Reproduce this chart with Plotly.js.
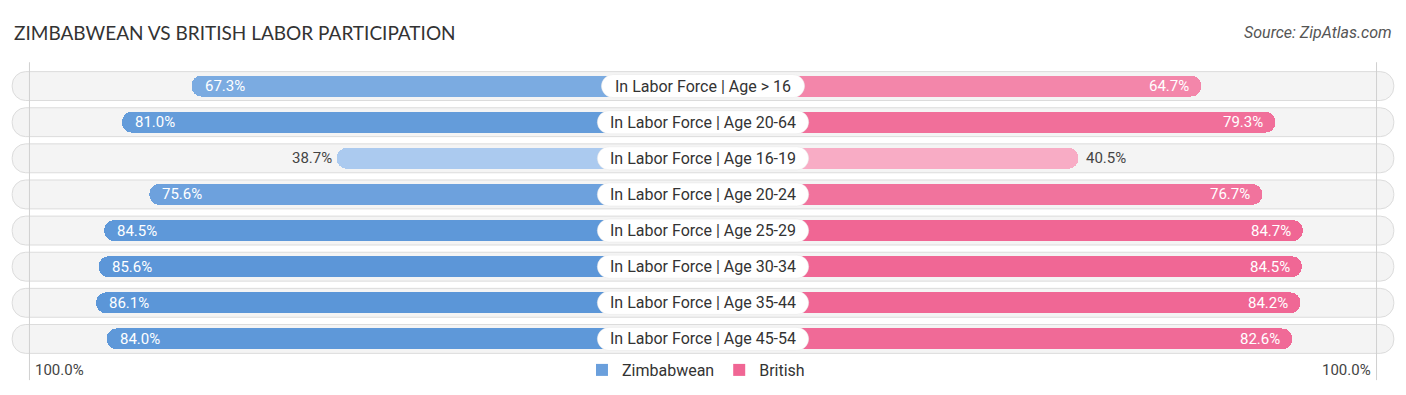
<!DOCTYPE html>
<html>
<head>
<meta charset="utf-8">
<script src="https://cdn.plot.ly/plotly-3.0.1.min.js"></script>
<style>
html,body{margin:0;padding:0;background:#fff;}
#chart{width:1406px;height:395px;}
</style>
</head>
<body>
<div id="chart"></div>
<script>
// ---- data ----
const categories = [
  "In Labor Force | Age > 16",
  "In Labor Force | Age 20-64",
  "In Labor Force | Age 16-19",
  "In Labor Force | Age 20-24",
  "In Labor Force | Age 25-29",
  "In Labor Force | Age 30-34",
  "In Labor Force | Age 35-44",
  "In Labor Force | Age 45-54"
];
const zimbabwean = [67.3, 81.0, 38.7, 75.6, 84.5, 85.6, 86.1, 84.0];
const british    = [64.7, 79.3, 40.5, 76.7, 84.7, 84.5, 84.2, 82.6];
const seriesNames = ["Zimbabwean", "British"];
const axisEndLabel = "100.0%";
const titleText = "ZIMBABWEAN VS BRITISH LABOR PARTICIPATION";
const sourceText = "Source: ZipAtlas.com";

// ---- layout constants ----
const GAP = 33.4;          // half-width of the centre label area (axis units)
const BG_END = 136;        // background pill extent
const REF_LINE = 132.6;    // thin reference lines
const INSIDE_MIN = 50;     // values below this get their label outside

function mix(c1, c2, t) {
  t = Math.max(0, Math.min(1, t));
  const a = c1.match(/\w\w/g).map(h => parseInt(h, 16));
  const b = c2.match(/\w\w/g).map(h => parseInt(h, 16));
  return "rgb(" + a.map((v, i) => Math.round(v + (b[i] - v) * t)).join(",") + ")";
}
const blueCol = v => mix("b0cdf0", "5b96d8", (v - 36) / 50);
const pinkCol = v => mix("f8b0c8", "f06694", (v - 38) / 47);

const n = categories.length;
const traces = [];

// background pills (one bar spanning both sides)
traces.push({
  type: "bar", orientation: "h", y: categories, x: categories.map(() => 2 * BG_END), base: -BG_END,
  width: 0.8, marker: {color: "#f4f4f4", line: {color: "#dcdcdc", width: 1}, cornerradius: "50%"},
  hoverinfo: "skip", showlegend: false
});

// data bars (start at the centre, hidden under the label)
traces.push({
  type: "bar", orientation: "h", y: categories, x: zimbabwean.map(v => -(v + GAP)), base: 0,
  width: 0.58, marker: {color: zimbabwean.map(blueCol), cornerradius: "50%"},
  hoverinfo: "skip", showlegend: false
});
traces.push({
  type: "bar", orientation: "h", y: categories, x: british.map(v => v + GAP), base: 0,
  width: 0.58, marker: {color: british.map(pinkCol), cornerradius: "50%"},
  hoverinfo: "skip", showlegend: false
});

// centre label pills
const half = categories.map(c => 0.8 * c.length);
traces.push({
  type: "bar", orientation: "h", y: categories, x: half.map(h => 2 * h), base: half.map(h => -h),
  width: 0.64, marker: {color: "#ffffff", line: {color: "#e6e6e6", width: 0.5}, cornerradius: "50%"},
  hoverinfo: "skip", showlegend: false
});

// legend entries
traces.push({type: "scatter", mode: "markers", x: [null], y: [null], name: seriesNames[0],
  marker: {color: "#6a9fdc", symbol: "square", size: 15}, hoverinfo: "skip"});
traces.push({type: "scatter", mode: "markers", x: [null], y: [null], name: seriesNames[1],
  marker: {color: "#f06694", symbol: "square", size: 15}, hoverinfo: "skip"});

const FONT = "Roboto, sans-serif";
const annotations = [];
categories.forEach((c, i) => {
  annotations.push({x: 0, y: c, xref: "x", yref: "y", text: c, showarrow: false,
    font: {family: FONT, size: 16, color: "#333"}, xanchor: "center", yanchor: "middle"});
  const zv = zimbabwean[i], bv = british[i];
  const zin = zv >= INSIDE_MIN, bin = bv >= INSIDE_MIN;
  annotations.push({x: -GAP - zv, y: c, xref: "x", yref: "y", text: zv.toFixed(1) + "%", showarrow: false,
    xanchor: zin ? "left" : "right", xshift: zin ? 11 : -3, yanchor: "middle",
    font: {family: FONT, size: 15, color: zin ? "#ffffff" : "#444"}});
  annotations.push({x: GAP + bv, y: c, xref: "x", yref: "y", text: bv.toFixed(1) + "%", showarrow: false,
    xanchor: bin ? "right" : "left", xshift: bin ? -10 : 6, yanchor: "middle",
    font: {family: FONT, size: 15, color: bin ? "#ffffff" : "#444"}});
});
annotations.push({x: -REF_LINE, y: -0.045, xref: "x", yref: "paper", text: axisEndLabel, showarrow: false,
  xanchor: "left", xshift: 4, yanchor: "middle", font: {family: FONT, size: 15, color: "#444"}});
annotations.push({x: REF_LINE, y: -0.045, xref: "x", yref: "paper", text: axisEndLabel, showarrow: false,
  xanchor: "right", xshift: -4, yanchor: "middle", font: {family: FONT, size: 15, color: "#444"}});
annotations.push({x: 0.0085, y: 1 + 35 / 289, xref: "paper", yref: "paper", text: titleText, showarrow: false,
  xanchor: "left", yanchor: "middle", font: {family: "Lato, sans-serif", size: 19, color: "#333"}});
annotations.push({x: 0.9915, y: 1 + 35 / 289, xref: "paper", yref: "paper", text: "<i>" + sourceText + "</i>", showarrow: false,
  xanchor: "right", yanchor: "middle", font: {family: FONT, size: 16, color: "#555"}});

const layout = {
  width: 1406, height: 395,
  margin: {l: 0, r: 0, t: 68, b: 38, pad: 0},
  paper_bgcolor: "#fff", plot_bgcolor: "#fff",
  barmode: "overlay",
  bargap: 0,
  xaxis: {range: [-138.4, 138.4], showgrid: false, zeroline: false, showticklabels: false, fixedrange: true},
  yaxis: {type: "category", autorange: false, range: [n - 0.5, -0.5], showgrid: false, zeroline: false,
          showticklabels: false, fixedrange: true},
  showlegend: true,
  legend: {orientation: "h", x: 0.495, xanchor: "center", y: -0.045, yanchor: "middle",
           bgcolor: "rgba(0,0,0,0)",
           font: {family: FONT, size: 16, color: "#333"}, traceorder: "normal", itemsizing: "constant"},
  shapes: [
    {type: "line", xref: "x", yref: "paper", x0: -REF_LINE, x1: -REF_LINE, y0: -0.08, y1: 1.02,
     line: {color: "#d0d0d0", width: 1}, layer: "above"},
    {type: "line", xref: "x", yref: "paper", x0: REF_LINE, x1: REF_LINE, y0: -0.08, y1: 1.02,
     line: {color: "#d0d0d0", width: 1}, layer: "above"}
  ],
  annotations: annotations
};

Plotly.newPlot("chart", traces, layout, {displayModeBar: false, staticPlot: true});
</script>
</body>
</html>
